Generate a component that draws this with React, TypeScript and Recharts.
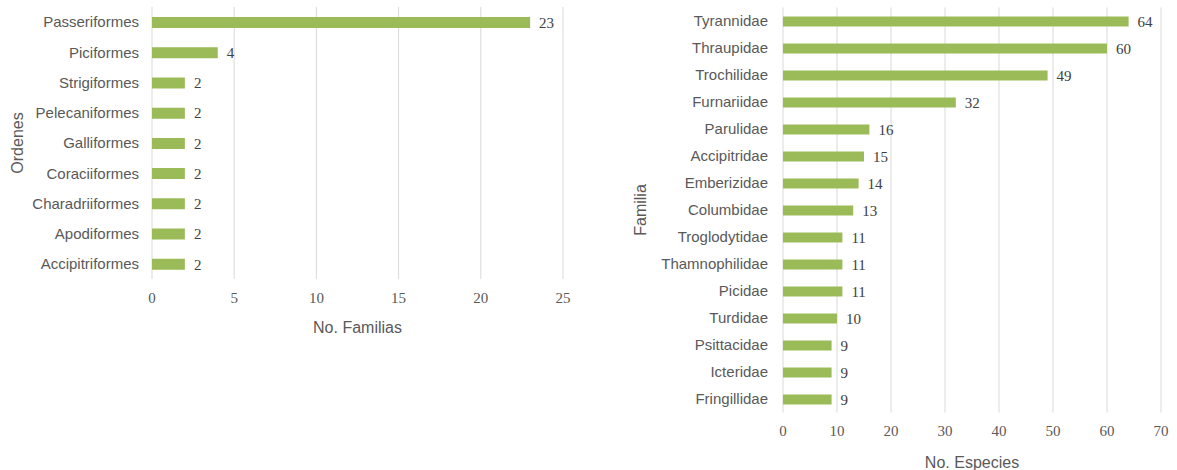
import React from "react";
import { BarChart, Bar, XAxis, YAxis, CartesianGrid, LabelList } from "recharts";

const ordenes = ["Passeriformes", "Piciformes", "Strigiformes", "Pelecaniformes", "Galliformes", "Coraciiformes", "Charadriiformes", "Apodiformes", "Accipitriformes"];
const familiasCount = [23, 4, 2, 2, 2, 2, 2, 2, 2];
const ordenTicks = [0, 5, 10, 15, 20, 25];

const familias = ["Tyrannidae", "Thraupidae", "Trochilidae", "Furnariidae", "Parulidae", "Accipitridae", "Emberizidae", "Columbidae", "Troglodytidae", "Thamnophilidae", "Picidae", "Turdidae", "Psittacidae", "Icteridae", "Fringillidae"];
const especiesCount = [64, 60, 49, 32, 16, 15, 14, 13, 11, 11, 11, 10, 9, 9, 9];
const familiaTicks = [0, 10, 20, 30, 40, 50, 60, 70];

const leftData = ordenes.map((name, i) => ({ name, value: familiasCount[i] }));
const rightData = familias.map((name, i) => ({ name, value: especiesCount[i] }));

const BAR = "#9BBB59";
const GRID = "#d9d9d9";
const SANS = "'Liberation Sans', Arial, sans-serif";
const SERIF = "'Liberation Serif', 'Times New Roman', serif";

export default function App() {
  return (
    <div style={{ position: "absolute", left: 0, top: 0, width: 1177, height: 470, background: "#fff" }}>
      <div style={{ position: "absolute", left: 0, top: 0 }}>
        <BarChart width={600} height={340} data={leftData} layout="vertical" margin={{ top: 7, right: 37, bottom: 0, left: 0 }} barSize={11}>
          <CartesianGrid horizontal={false} stroke={GRID} strokeWidth={1} />
          <XAxis
            type="number"
            domain={[0, 25]}
            ticks={ordenTicks}
            axisLine={false}
            tickLine={false}
            tickMargin={7}
            height={61}
            tick={{ fill: "#595959", fontSize: 15, fontFamily: SERIF }}
            label={{ value: "No. Familias", position: "insideBottom", offset: 7, fill: "#595959", fontSize: 16, fontFamily: SANS }}
          />
          <YAxis
            type="category"
            dataKey="name"
            width={152}
            axisLine={false}
            tickLine={false}
            tickMargin={7}
            interval={0}
            tick={{ fill: "#595959", fontSize: 15, fontFamily: SANS }}
            label={{ value: "Ordenes", angle: -90, position: "insideLeft", offset: 17, fill: "#595959", fontSize: 16, fontFamily: SANS, style: { textAnchor: "middle" } }}
          />
          <Bar dataKey="value" fill={BAR} isAnimationActive={false}>
            <LabelList dataKey="value" position="right" offset={9} fill="#404040" fontSize={15} fontFamily={SERIF} />
          </Bar>
        </BarChart>
      </div>
      <div style={{ position: "absolute", left: 620, top: 0 }}>
        <BarChart width={557} height={470} data={rightData} layout="vertical" margin={{ top: 7.5, right: 16, bottom: 0, left: 0 }} barSize={10}>
          <CartesianGrid horizontal={false} stroke={GRID} strokeWidth={1} />
          <XAxis
            type="number"
            domain={[0, 70]}
            ticks={familiaTicks}
            axisLine={false}
            tickLine={false}
            tickMargin={7}
            height={57.5}
            tick={{ fill: "#595959", fontSize: 15, fontFamily: SERIF }}
            label={{ value: "No. Especies", position: "insideBottom", offset: 2, fill: "#595959", fontSize: 16, fontFamily: SANS }}
          />
          <YAxis
            type="category"
            dataKey="name"
            width={163}
            axisLine={false}
            tickLine={false}
            tickMargin={9}
            interval={0}
            tick={{ fill: "#595959", fontSize: 15, fontFamily: SANS }}
            label={{ value: "Familia", angle: -90, position: "insideLeft", offset: 20, fill: "#595959", fontSize: 16, fontFamily: SANS, style: { textAnchor: "middle" } }}
          />
          <Bar dataKey="value" fill={BAR} isAnimationActive={false}>
            <LabelList dataKey="value" position="right" offset={9} fill="#404040" fontSize={15} fontFamily={SERIF} />
          </Bar>
        </BarChart>
      </div>
    </div>
  );
}
